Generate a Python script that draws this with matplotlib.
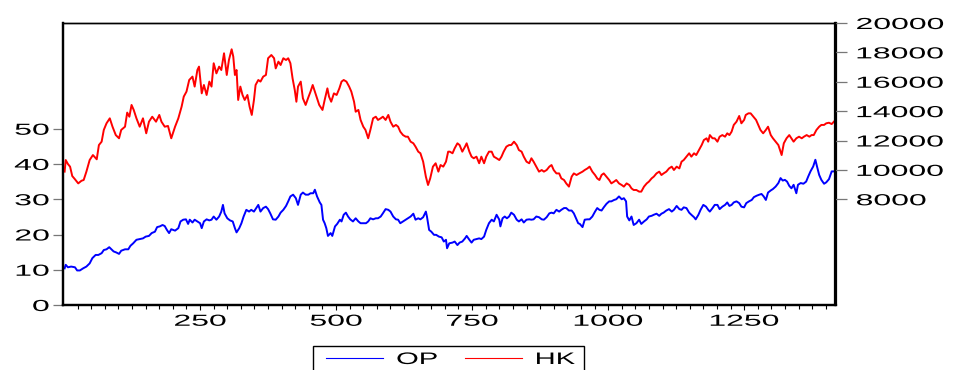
import matplotlib
matplotlib.use('Agg')
import matplotlib.pyplot as plt
from matplotlib.lines import Line2D
from matplotlib.patches import Rectangle
from matplotlib.patheffects import AbstractPathEffect
from matplotlib.transforms import Affine2D

plt.rcParams['font.family'] = 'Liberation Sans'

op_obs = [1, 3, 7, 13, 20, 24, 29, 35, 41, 47, 52, 58, 63, 69, 73, 78, 83, 87, 91, 96,
          101, 105, 112, 118, 122, 127, 133, 139, 145, 150, 156, 161, 167, 171, 176, 181, 185, 189, 193, 197,
          204, 210, 214, 219, 224, 228,
          231, 236, 240, 245, 250, 253, 257, 262, 267, 271, 275, 280, 285, 289, 292, 295, 300, 305, 310, 314,
          317, 322, 326, 330, 335, 340, 344, 349, 352, 357, 361, 366, 371, 375, 379, 384, 389, 394, 398, 403,
          408, 412, 416, 421, 426, 430, 435, 439, 444, 449, 453, 458, 461, 465, 469,
          470, 473, 476, 479, 482, 485, 490, 493, 498, 502, 507, 510, 514, 518, 522, 526, 531, 536, 541, 545,
          550, 555, 559, 563, 568, 573, 577, 582, 586, 591, 596, 600, 605, 610, 614, 618, 623, 628, 632, 637,
          642, 646, 651, 655, 660, 665, 667, 671, 675, 680, 684, 689, 694, 698, 702, 704, 708,
          714, 718, 723, 727, 732, 737, 740, 745, 749, 753, 758, 763, 767, 772, 776, 781, 786, 790, 795, 800,
          802, 806, 810, 814, 818, 822, 827, 832, 836, 841, 845, 850, 855, 859, 863, 868, 873, 878, 882, 887,
          892, 896, 900, 905, 910, 914, 919, 923, 928, 933, 937, 941, 945,
          948, 953, 957, 962, 966, 971, 976, 980, 984, 988, 992, 997, 1002, 1006, 1011, 1015, 1020, 1025, 1029, 1033,
          1035, 1039, 1043, 1047, 1052, 1057, 1061, 1066, 1071, 1075, 1080, 1084, 1089, 1094, 1098, 1102, 1107, 1112,
          1117, 1121, 1126, 1131, 1135, 1139, 1144, 1149, 1153, 1158, 1161, 1166, 1170, 1175, 1180, 1184,
          1187, 1192, 1196, 1201, 1205, 1210, 1215, 1219, 1223, 1227, 1231, 1236, 1241, 1245, 1250, 1254, 1259, 1264,
          1268, 1273, 1278, 1282, 1286, 1290, 1294, 1299, 1303, 1308, 1313, 1317, 1321, 1325, 1329, 1333, 1337, 1341,
          1346, 1349, 1354, 1359, 1364, 1368, 1372, 1377, 1381, 1384, 1388, 1392, 1397, 1401, 1406, 1411, 1415]
op = [10.4, 11.4, 10.7, 10.9, 10.7, 9.8, 9.8, 10.4, 10.9, 11.8, 13.3, 14.2, 14.2, 14.7, 15.6, 15.8, 16.4, 15.8, 15.2, 14.9,
      14.5, 15.4, 15.8, 15.8, 16.8, 17.5, 18.5, 18.7, 18.9, 19.4, 19.6, 20.4, 20.8, 22.1, 22.3, 22.7, 22.4, 21.3, 20.4, 21.5,
      21.1, 21.8, 23.7, 24.2, 24.3, 23.0,
      24.2, 23.4, 24.2, 23.7, 23.2, 21.8, 23.7, 24.3, 24.0, 24.2, 25.1, 24.2, 25.1, 26.5, 28.4, 26.0, 24.6, 24.0, 23.7, 21.8,
      20.6, 21.8, 23.2, 25.1, 27.0, 26.5, 27.0, 26.5, 27.2, 28.4, 26.5, 27.5, 27.9, 27.2, 26.0, 24.3, 24.2, 25.1, 26.2, 27.0,
      28.1, 29.4, 30.8, 31.3, 30.3, 28.4, 31.3, 31.9, 31.3, 31.3, 31.7, 31.7, 32.7, 30.8, 29.4,
      29.1, 28.4, 24.2, 23.2, 21.8, 19.6, 20.4, 19.6, 22.3, 23.0, 24.2, 23.7, 25.6, 26.2, 25.1, 24.3, 23.7, 24.6, 23.7, 23.2,
      23.2, 23.2, 23.7, 24.6, 24.3, 24.6, 24.6, 25.1, 26.0, 27.2, 27.0, 26.5, 25.1, 24.3, 24.2, 23.2, 23.7, 24.2, 24.6, 25.1,
      25.9, 24.2, 24.6, 24.3, 24.9, 26.5, 25.1, 21.3, 20.8, 19.9, 19.9, 19.4, 19.2, 18.0, 18.5, 16.1, 17.5,
      17.7, 18.0, 17.0, 17.7, 18.0, 18.9, 19.6, 18.5, 17.7, 18.5, 18.7, 18.9, 18.7, 19.4, 21.3, 23.2, 24.2, 23.7, 25.6, 24.2,
      22.3, 24.6, 25.1, 24.6, 25.1, 26.2, 25.6, 24.2, 23.7, 24.3, 23.4, 24.2, 24.3, 24.2, 24.3, 25.1, 24.9, 24.3, 24.2, 24.9,
      26.0, 26.2, 26.0, 27.0, 26.5, 27.0, 27.5, 27.5, 26.8, 26.8, 26.0, 24.6, 23.2,
      23.0, 22.1, 24.2, 24.3, 24.3, 25.1, 26.5, 27.5, 27.0, 26.8, 27.7, 28.7, 29.4, 29.4, 29.8, 30.0, 30.8, 30.0, 30.3, 29.4,
      25.1, 24.0, 25.1, 22.7, 23.2, 24.2, 23.0, 23.7, 24.3, 25.1, 25.3, 25.6, 25.9, 25.3, 25.9, 26.2, 26.8, 27.2,
      26.5, 27.0, 28.1, 27.2, 27.0, 27.7, 27.5, 26.2, 25.6, 24.9, 24.3, 25.6, 27.0, 28.4, 27.9, 27.0,
      26.5, 27.5, 28.4, 28.4, 27.2, 27.9, 28.4, 29.1, 28.1, 28.4, 29.1, 29.4, 28.9, 27.9, 27.7, 28.9, 29.4, 29.8,
      30.6, 31.0, 31.3, 31.5, 30.8, 29.8, 31.9, 32.5, 32.9, 33.6, 34.6, 36.0, 35.3, 35.5, 35.0, 33.8, 33.1, 34.1,
      31.7, 34.1, 34.6, 34.4, 35.0, 36.5, 37.9, 39.3, 41.2, 39.3, 36.9, 35.5, 34.4, 34.8, 35.7, 37.9, 37.9]

hk_obs = [1, 3, 7, 11, 15, 20, 26, 32, 36, 41, 47, 53, 60, 64, 69, 73, 78, 84, 89, 95,
          101, 105, 112, 116, 120, 124, 128, 133, 139, 145, 151, 156, 162, 169, 175, 179, 185, 191, 197, 204,
          210, 216, 220, 225, 230,
          236, 240, 245, 248, 253, 257, 262, 267, 271, 275, 280, 285, 289, 294, 299, 303, 308, 311, 314, 317,
          320, 324, 328, 332, 337, 341, 345, 349, 352, 357, 361, 366, 371, 375, 381, 386, 389, 394, 398, 403,
          408, 412, 416, 420, 424, 427, 430, 435, 439, 444, 449, 453, 457, 461, 465, 469,
          475, 479, 484, 487, 491, 496, 501, 506, 510, 514, 519, 524, 528, 533, 536, 541, 545, 550, 554, 559,
          563, 568, 573, 577, 582, 586, 591, 596, 600, 605, 610, 614, 618, 623, 628, 632, 637, 642, 646, 651,
          655, 660, 665, 669, 673, 678, 683, 688, 692, 697, 702, 706,
          709, 714, 718, 723, 727, 732, 737, 740, 745, 749, 753, 758, 763, 767, 772, 776, 781, 786, 790, 795,
          800, 804, 808, 813, 818, 822, 827, 832, 836, 841, 845, 850, 855, 859, 863, 868, 873, 878, 882, 887,
          892, 896, 900, 905, 910, 914, 919, 923, 928, 933, 937, 942, 947,
          953, 957, 962, 966, 971, 976, 980, 984, 988, 992, 997, 1002, 1006, 1011, 1015, 1020, 1025, 1029, 1034, 1039,
          1043, 1047, 1052, 1057, 1061, 1066, 1071, 1075, 1080, 1084, 1089, 1094, 1098, 1102, 1107, 1112, 1117, 1121,
          1126, 1131, 1135, 1139, 1144, 1149, 1153, 1158, 1162, 1167, 1172, 1176, 1181, 1184,
          1187, 1192, 1196, 1201, 1205, 1210, 1215, 1219, 1223, 1227, 1231, 1236, 1241, 1245, 1250, 1253, 1258, 1262,
          1267, 1272, 1276, 1280, 1285, 1290, 1294, 1299, 1303, 1308, 1313, 1316, 1319, 1323, 1328, 1333, 1337, 1341,
          1346, 1351, 1356, 1360, 1365, 1370, 1374, 1378, 1383, 1388, 1392, 1397, 1401, 1406, 1411, 1415]
hk = [9880, 10670, 10400, 10220, 9580, 9360, 9080, 9260, 9310, 9880, 10670, 11010, 10720, 11690, 11920, 12720, 13170, 13510, 12940, 12370,
      12150, 12720, 12940, 13900, 13620, 14420, 14080, 13510, 12940, 13510, 12490, 13280, 13620, 13280, 13740, 13280, 12940, 12990, 12150, 12940,
      13510, 14300, 14990, 15330, 16120,
      16350, 15670, 16800, 17030, 15210, 15780, 15100, 16010, 15670, 17260, 16570, 17030, 16800, 17940, 16460, 17480, 18210, 17710, 16460, 16800,
      14760, 15670, 15100, 14760, 15100, 14300, 13740, 14760, 15780, 16120, 16010, 16350, 16460, 17600, 17820, 17600, 16910, 17370, 17140, 17600,
      17480, 17600, 17260, 16230, 15440, 14640, 15670, 16010, 14870, 14420, 14940, 15330, 15780, 15330, 14870, 14420,
      14080, 14760, 15550, 14990, 14640, 15210, 15100, 15550, 16010, 16120, 16010, 15670, 15330, 14640, 13960, 14080, 13400, 12940, 12720, 12150,
      12720, 13510, 13620, 13400, 13510, 13620, 13400, 13740, 13280, 12940, 13060, 12940, 12600, 12370, 12260, 12260, 11920, 11810, 11580, 11240,
      11130, 10560, 9540, 8970, 9420, 10220, 10450, 9880, 10330, 10220, 10560, 11240,
      11240, 11130, 11470, 11810, 11690, 11240, 11580, 11810, 11240, 10900, 10790, 10900, 10450, 10900, 10450, 10900, 11240, 11240, 10900, 10790,
      10670, 10900, 11240, 11580, 11690, 11690, 11920, 11690, 11350, 11240, 10900, 10560, 10450, 10790, 10560, 10220, 9880, 9990, 9880, 9990,
      10220, 10330, 9990, 9760, 9760, 9420, 9310, 9080, 8860, 9540, 9760, 9650, 9760,
      9880, 9990, 10100, 10220, 9880, 9650, 9420, 9310, 9650, 9760, 9540, 9310, 9080, 9200, 9310, 9080, 8970, 8860, 9080, 8970,
      8740, 8630, 8630, 8520, 8520, 8860, 9080, 9200, 9420, 9540, 9760, 9880, 9650, 9760, 9880, 10100, 10220, 9990,
      10220, 10100, 10560, 10670, 10900, 11130, 10900, 11130, 11010, 11350, 11690, 12030, 12150, 11920,
      12370, 12150, 12150, 11920, 12260, 12370, 12260, 12490, 12370, 12600, 13060, 13280, 13670, 13170, 13400, 13740, 13850, 13850,
      13620, 13400, 13060, 12720, 12490, 12720, 12940, 12370, 12150, 11920, 11690, 11350, 11010, 11810, 12150, 12370, 12150, 11920,
      12150, 12260, 12150, 12260, 12370, 12260, 12370, 12370, 12720, 12940, 13060, 13060, 13170, 13210, 13120, 13280]

op_ticks = [0, 10, 20, 30, 40, 50]
hk_ticks = [8000, 10000, 12000, 14000, 16000, 18000, 20000]
x_ticks = [250, 500, 750, 1000, 1250]


class Wide(AbstractPathEffect):
    # the original font is drawn about twice as wide, stretch the glyphs sideways
    def __init__(self, sx, anchor='center'):
        super().__init__()
        self.sx = sx
        self.anchor = anchor

    def draw_path(self, renderer, gc, tpath, affine, rgbFace=None):
        ext = tpath.get_extents(affine)
        if self.anchor == 'left':
            x0 = ext.x0
        elif self.anchor == 'right':
            x0 = ext.x1
        else:
            x0 = 0.5 * (ext.x0 + ext.x1)
        st = Affine2D().translate(-x0, 0).scale(self.sx, 1).translate(x0, 0)
        renderer.draw_path(gc, tpath, affine + st, rgbFace)


W, H = 956, 370
fig = plt.figure(figsize=(W / 100, H / 100), dpi=100)
ax = fig.add_axes([63 / W, 1 - 305 / H, (835.5 - 63) / W, (305 - 23) / H])
ax2 = ax.twinx()

ax.plot(op_obs, op, color='#0000ff', lw=1.4)
ax2.plot(hk_obs, hk, color='#ff0000', lw=1.4)

ax.set_xlim(-2, 1418)
ax.set_ylim(0, 80)
ax2.set_ylim(800, 20000)

ax.set_xticks(x_ticks)
ax.set_xticks(range(25, 1418, 25), minor=True)
ax.set_yticks(op_ticks)
ax2.set_yticks(hk_ticks)

ax.tick_params(axis='x', which='major', direction='out', length=3.8, width=0.8, pad=2.5,
               labelsize=11.5, color='black')
ax.tick_params(axis='x', which='minor', direction='out', length=2.6, width=0.8, color='black')
ax.tick_params(axis='y', direction='out', length=7.5, width=0.9, pad=2.5, labelsize=11.5, color='#777777')
ax2.tick_params(axis='y', direction='out', length=8.5, width=0.9, pad=6.5, labelsize=11.5, color='#777777')

for s in ['left', 'bottom', 'right']:
    ax.spines[s].set_linewidth(1.6)
    ax2.spines[s].set_linewidth(1.6)
ax.spines['top'].set_linewidth(1.0)
ax2.spines['top'].set_linewidth(1.0)

for t in ax.get_xticklabels():
    t.set_path_effects([Wide(2.0, 'center')])
for t in ax.get_yticklabels():
    t.set_path_effects([Wide(2.0, 'right')])
for t in ax2.get_yticklabels():
    t.set_path_effects([Wide(2.0, 'left')])

# legend at the bottom, its box runs off the edge of the picture
handles = [Line2D([], [], color='#0000ff', lw=0.8), Line2D([], [], color='#ff0000', lw=0.8)]
leg = fig.legend(handles, ['OP', 'HK'], loc='center left', bbox_to_anchor=(326 / W, 1 - 359.5 / H),
                 ncol=2, frameon=False, fontsize=12, borderpad=0, borderaxespad=0,
                 handlelength=3.4, handletextpad=0.84, columnspacing=2.66)
for t in leg.get_texts():
    t.set_path_effects([Wide(1.75, 'left')])
fig.add_artist(Rectangle((312.7 / W, -0.05), 271.3 / W, 0.05 + 1 - 345.7 / H,
                         fill=False, lw=1.0, edgecolor='black', transform=fig.transFigure))

fig.savefig('out.png', dpi=100)
